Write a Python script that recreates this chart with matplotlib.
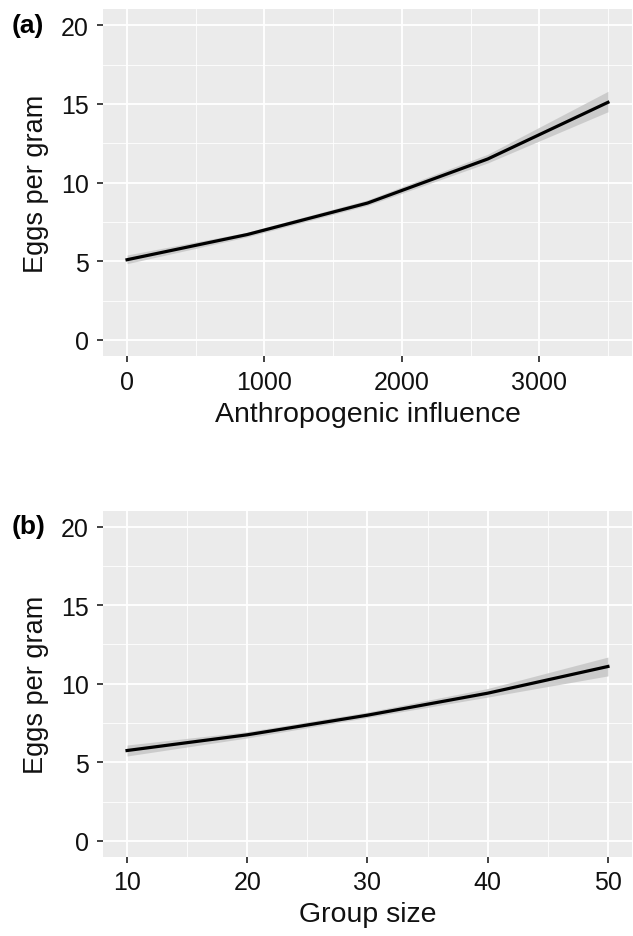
import matplotlib
matplotlib.use("Agg")
import matplotlib.pyplot as plt
from matplotlib.ticker import MultipleLocator

plt.rcParams['font.family'] = ['Liberation Sans', 'DejaVu Sans']

# panel (a): anthropogenic influence
anthro_x = [0, 875, 1750, 2625, 3500]
anthro_fit = [5.1, 6.7, 8.7, 11.5, 15.1]
anthro_lo = [4.85, 6.55, 8.55, 11.25, 14.5]
anthro_hi = [5.4, 6.85, 8.9, 11.8, 15.8]

# panel (b): group size
group_x = [10, 20, 30, 40, 50]
group_fit = [5.75, 6.75, 8.0, 9.4, 11.1]
group_lo = [5.4, 6.55, 7.85, 9.15, 10.5]
group_hi = [6.1, 6.95, 8.2, 9.7, 11.7]

y_ticks = [0, 5, 10, 15, 20]


def style_panel(ax, xlim, xmajor, xminor, xlabel, tag):
    ax.set_facecolor('#EBEBEB')
    for s in ax.spines.values():
        s.set_visible(False)
    ax.set_xlim(*xlim)
    ax.set_ylim(-1, 21)
    ax.xaxis.set_major_locator(MultipleLocator(xmajor))
    ax.xaxis.set_minor_locator(MultipleLocator(xminor))
    ax.set_yticks(y_ticks)
    ax.yaxis.set_minor_locator(MultipleLocator(2.5))
    ax.grid(which='major', color='white', linewidth=1.3)
    ax.grid(which='minor', color='white', linewidth=0.6)
    ax.set_axisbelow(True)
    ax.tick_params(which='major', length=4, width=1.3, color='#333333',
                   labelsize=18, labelcolor='#111111', pad=6)
    ax.tick_params(which='minor', length=0)
    ax.set_xlabel(xlabel, fontsize=20.5, labelpad=5, color='#111111')
    ax.set_ylabel('Eggs per gram', fontsize=19.5, labelpad=9, color='#111111')
    ax.text(-0.172, 0.99, tag, transform=ax.transAxes, fontsize=19,
            fontweight='bold', ha='left', va='top')


fig = plt.figure(figsize=(6.33, 9.37), dpi=100)
ax1 = fig.add_axes([0.1627, 0.6193, 0.8357, 0.3695])
ax2 = fig.add_axes([0.1627, 0.0848, 0.8357, 0.3688])

ax1.fill_between(anthro_x, anthro_lo, anthro_hi, color='#C4C4C4', alpha=0.8, linewidth=0)
ax1.plot(anthro_x, anthro_fit, color='black', linewidth=2.3)
style_panel(ax1, (-175, 3675), 1000, 500, 'Anthropogenic influence', '(a)')

ax2.fill_between(group_x, group_lo, group_hi, color='#C4C4C4', alpha=0.8, linewidth=0)
ax2.plot(group_x, group_fit, color='black', linewidth=2.3)
style_panel(ax2, (8, 52), 10, 5, 'Group size', '(b)')

fig.savefig('out.png', dpi=100)
